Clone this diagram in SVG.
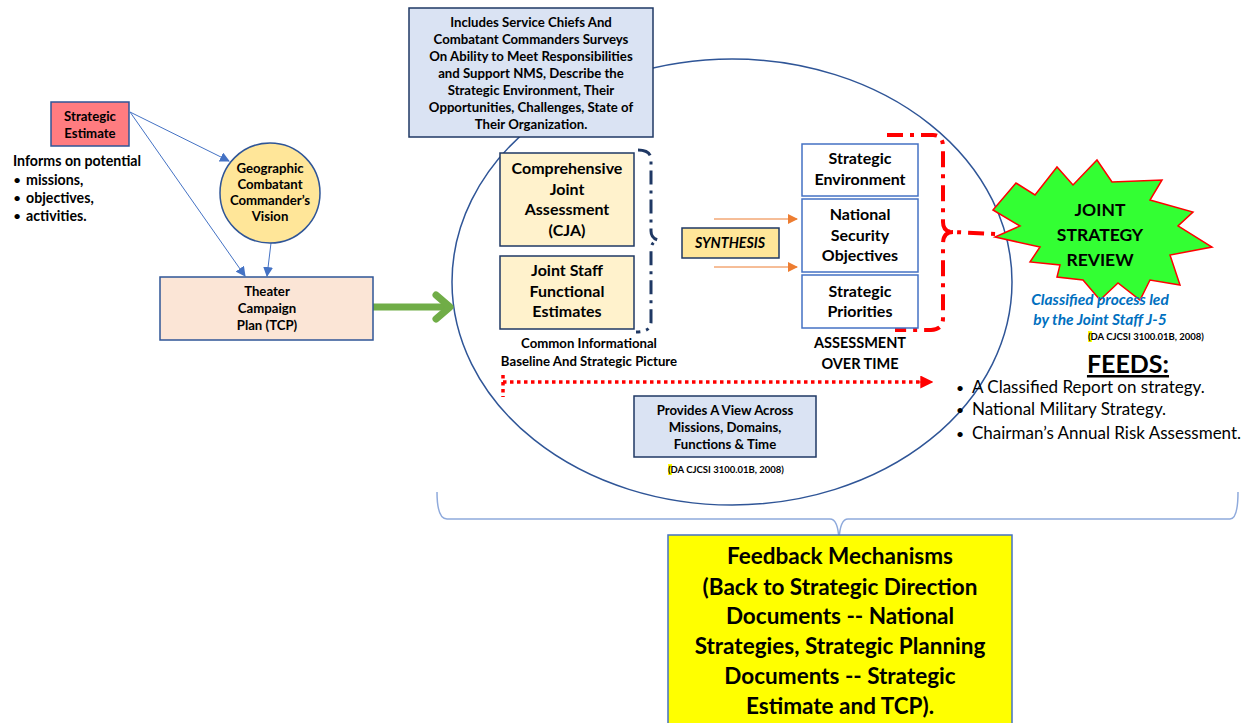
<svg xmlns="http://www.w3.org/2000/svg" width="1250" height="723" viewBox="0 0 1250 723">
<style>
text{font-family:Lato,"Open Sans","Liberation Sans",sans-serif;fill:#000}
.b{font-weight:bold}
.c{text-anchor:middle}
.s12{font-size:13.2px}
.s13{font-size:14.2px}
.s15{font-size:16px}
.box{stroke:#1F3864;stroke-width:1.5}
.bl{stroke:#4472C4;stroke-width:1.5;fill:#fff}
.conn{stroke:#4472C4;stroke-width:1;fill:none}
</style>
<defs>
<marker id="ab" viewBox="0 0 10 10" refX="9" refY="5" markerWidth="10" markerHeight="10" markerUnits="userSpaceOnUse" orient="auto"><path d="M0,0 L10,5 L0,10 Z" fill="#4472C4"/></marker>
<marker id="ao" viewBox="0 0 10 10" refX="9" refY="5" markerWidth="10" markerHeight="10" markerUnits="userSpaceOnUse" orient="auto"><path d="M0,0 L10,5 L0,10 Z" fill="#ED7D31"/></marker>
<marker id="ar" viewBox="0 0 10 10" refX="9" refY="5" markerWidth="13" markerHeight="13" markerUnits="userSpaceOnUse" orient="auto"><path d="M0,0 L10,5 L0,10 Z" fill="#FF0000"/></marker>
</defs>

<g id="assessment-ellipse">
<ellipse cx="732" cy="282" rx="280" ry="223" fill="none" stroke="#2F5597" stroke-width="1.5"/>
</g>

<g id="connectors">
<line class="conn" x1="130" y1="112" x2="229" y2="161" marker-end="url(#ab)"/>
<line class="conn" x1="130" y1="112" x2="245" y2="276" marker-end="url(#ab)"/>
<line class="conn" x1="271" y1="243" x2="267" y2="276" marker-end="url(#ab)"/>
<line x1="373" y1="307" x2="449" y2="307" stroke="#70AD47" stroke-width="7"/>
<polyline points="436,295 450,307 436,319" fill="none" stroke="#70AD47" stroke-width="7" stroke-linecap="round" stroke-linejoin="round"/>
<line x1="714" y1="219" x2="797" y2="219" stroke="#ED7D31" stroke-width="1" marker-end="url(#ao)"/>
<line x1="714" y1="267" x2="797" y2="267" stroke="#ED7D31" stroke-width="1" marker-end="url(#ao)"/>
<path d="M638,150 Q651,150 651,160 V231 Q651,238 658,240 Q651,242 651,250 V322 Q651,332 636,332" fill="none" stroke="#1F3864" stroke-width="3" stroke-dasharray="14 6 3 6"/>
<path d="M887,135 H933 Q943,135 943,147 V222 Q943,232 953,232 L997,234 M953,232 Q943,232 943,244 V318 Q943,330 931,330 H895" fill="none" stroke="#FF0000" stroke-width="4" stroke-dasharray="16 7 4 7"/>
<path d="M503,375 V397 M503,382 H920" fill="none" stroke="#FF0000" stroke-width="3.5" stroke-dasharray="3.5 3.5"/>
<line x1="918" y1="382" x2="932" y2="382" stroke="#FF0000" stroke-width="1" marker-end="url(#ar)"/>
<path d="M437,492 Q437,519 447,519 H830 Q838,519 839,540 Q840,519 848,519 H1230 Q1238,519 1238,492" fill="none" stroke="#8FAADC" stroke-width="1.5"/>
</g>

<g id="strategic-estimate">
<rect x="51" y="102" width="78" height="44" fill="#FF7C80" stroke="#2F5597" stroke-width="1.5"/>
<text class="b c s12" x="90" y="121">Strategic</text>
<text class="b c s12" x="90" y="138">Estimate</text>
</g>

<g id="informs-text">
<text class="b s13" x="13" y="166">Informs on potential</text>
<text class="s13" x="13" y="185">•</text><text class="b s13" x="26" y="185">missions,</text>
<text class="s13" x="13" y="203">•</text><text class="b s13" x="26" y="203">objectives,</text>
<text class="s13" x="13" y="221">•</text><text class="b s13" x="26" y="221">activities.</text>
</g>

<g id="gcc-vision">
<circle cx="270" cy="193" r="50" fill="#FFE699" stroke="#2F5597" stroke-width="1.5"/>
<text class="b c s12" x="270" y="173">Geographic</text>
<text class="b c s12" x="270" y="189">Combatant</text>
<text class="b c s12" x="270" y="205">Commander’s</text>
<text class="b c s12" x="270" y="221">Vision</text>
</g>

<g id="tcp">
<rect x="160" y="277" width="213" height="63" fill="#FBE5D6" stroke="#2F5597" stroke-width="1.5"/>
<text class="b c s12" x="267" y="296">Theater</text>
<text class="b c s12" x="267" y="313">Campaign</text>
<text class="b c s12" x="267" y="330">Plan (TCP)</text>
</g>

<g id="surveys-box">
<rect class="box" x="409" y="8" width="244" height="129" fill="#DAE3F3"/>
<text class="b c s12" x="531" y="27">Includes Service Chiefs And</text>
<text class="b c s12" x="531" y="44">Combatant  Commanders Surveys</text>
<text class="b c s12" x="531" y="61">On Ability to Meet Responsibilities</text>
<text class="b c s12" x="531" y="78">and Support NMS, Describe the</text>
<text class="b c s12" x="531" y="95">Strategic Environment, Their</text>
<text class="b c s12" x="531" y="112">Opportunities, Challenges, State of</text>
<text class="b c s12" x="531" y="129">Their Organization.</text>
</g>

<g id="cja">
<rect class="box" x="500" y="153" width="134" height="93" fill="#FFF2CC"/>
<text class="b c s15" x="567" y="174">Comprehensive</text>
<text class="b c s15" x="567" y="195">Joint</text>
<text class="b c s15" x="567" y="215">Assessment</text>
<text class="b c s15" x="567" y="236">(CJA)</text>
</g>

<g id="js-estimates">
<rect class="box" x="500" y="256" width="134" height="73" fill="#FFF2CC"/>
<text class="b c s15" x="567" y="276">Joint Staff</text>
<text class="b c s15" x="567" y="297">Functional</text>
<text class="b c s15" x="567" y="317">Estimates</text>
</g>

<g id="baseline-label">
<text class="b c s12" x="589" y="348">Common Informational</text>
<text class="b c s12" x="589" y="366">Baseline And Strategic Picture</text>
</g>

<g id="synthesis">
<rect class="box" x="682" y="228" width="97" height="30" fill="#FFE699"/>
<text class="b c s13" x="730" y="248" font-style="italic">SYNTHESIS</text>
</g>

<g id="strategic-environment">
<rect class="bl" x="802" y="144" width="116" height="52"/>
<text class="b c s15" x="860" y="164">Strategic</text>
<text class="b c s15" x="860" y="185">Environment</text>
</g>
<g id="national-security-objectives">
<rect class="bl" x="802" y="199" width="116" height="73"/>
<text class="b c s15" x="860" y="220">National</text>
<text class="b c s15" x="860" y="241">Security</text>
<text class="b c s15" x="860" y="261">Objectives</text>
</g>
<g id="strategic-priorities">
<rect class="bl" x="802" y="275" width="116" height="53"/>
<text class="b c s15" x="860" y="297">Strategic</text>
<text class="b c s15" x="860" y="317">Priorities</text>
</g>

<g id="assessment-label">
<text class="b c" x="860" y="348" font-size="14.5">ASSESSMENT</text>
<text class="b c" x="860" y="369" font-size="14.5">OVER TIME</text>
</g>

<g id="provides-box">
<rect class="box" x="634" y="396" width="182" height="61" fill="#DAE3F3"/>
<text class="b c s12" x="725" y="415">Provides A View Across</text>
<text class="b c s12" x="725" y="432">Missions, Domains,</text>
<text class="b c s12" x="725" y="449">Functions &amp; Time</text>
<rect x="668" y="464" width="4" height="11" fill="#FFFF00"/>
<text x="668" y="473" font-size="9.5" font-weight="bold">(DA CJCSI 3100.01B,  2008)</text>
</g>

<g id="joint-strategy-review">
<polygon points="993,210 1016,183 1035,195 1057,167 1073,185 1097,160 1112,182 1162,180 1150,200 1193,212 1178,226 1212,247 1170,255 1180,285 1150,280 1140,300 1118,283 1100,300 1083,280 1057,277 1060,265 1030,262 1040,247 995,237 1020,226" fill="#33FF33" stroke="#FF0000" stroke-width="1.5"/>
<text class="b c" x="1100" y="216" font-size="17.5">JOINT</text>
<text class="b c" x="1100" y="241" font-size="17.5">STRATEGY</text>
<text class="b c" x="1100" y="266" font-size="17.5">REVIEW</text>
<text class="b c" x="1100" y="305" font-size="15.5" font-style="italic" style="fill:#0070C0">Classified process led</text>
<text class="b c" x="1100" y="325" font-size="15.5" font-style="italic" style="fill:#0070C0">by the Joint Staff J-5</text>
<rect x="1088" y="331" width="4" height="11" fill="#FFFF00"/>
<text x="1088" y="340" font-size="9.5" font-weight="bold">(DA CJCSI 3100.01B,  2008)</text>
</g>

<g id="feeds">
<text class="b c" x="1128" y="373" font-size="25" text-decoration="underline">FEEDS:</text>
<text x="956" y="393" font-size="14">•</text><text x="972" y="393" font-size="17">A Classified Report on strategy.</text>
<text x="956" y="415" font-size="14">•</text><text x="972" y="415" font-size="17">National Military Strategy.</text>
<text x="956" y="439" font-size="14">•</text><text x="972" y="439" font-size="17">Chairman’s Annual Risk Assessment.</text>
</g>

<g id="feedback-box">
<rect x="668" y="535" width="344" height="195" fill="#FFFF00" stroke="#4472C4" stroke-width="1.5"/>
<text class="b c" x="840" y="564" font-size="22.5">Feedback Mechanisms</text>
<text class="b c" x="840" y="595" font-size="22.5">(Back to Strategic Direction</text>
<text class="b c" x="840" y="624" font-size="22.5">Documents -- National</text>
<text class="b c" x="840" y="654" font-size="22.5">Strategies, Strategic Planning</text>
<text class="b c" x="840" y="684" font-size="22.5">Documents -- Strategic</text>
<text class="b c" x="840" y="714" font-size="22.5">Estimate and TCP).</text>
</g>
</svg>
